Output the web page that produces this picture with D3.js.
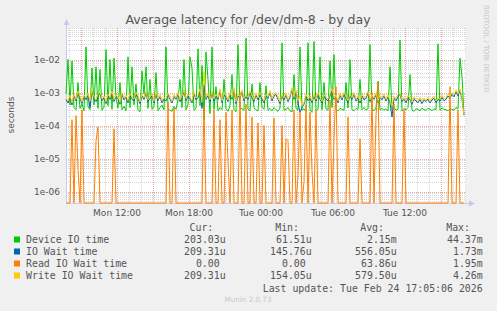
<!DOCTYPE html>
<html>
<head>
<meta charset="utf-8">
<script src="https://cdn.jsdelivr.net/npm/d3@7"></script>
<style>
  html, body { margin: 0; padding: 0; background: #f0f0f0; }
  svg { display: block; }
</style>
</head>
<body>
<svg id="chart"></svg>
<script>
// samples every 10 minutes, values in microseconds
const startTime = Date.UTC(2026, 1, 23, 7, 45);
const stepMs = 10 * 60 * 1000;

const deviceIO = [
  900, 10000, 420, 9000, 350, 300, 2000, 330, 450, 280,
  24000, 380, 300, 5500, 420, 6000, 330, 5000, 290, 360,
  20000, 400, 10000, 310, 11000, 700, 340, 2000, 300, 380,
  280, 12000, 350, 6000, 420, 1800, 300, 260, 4500, 900,
  6000, 330, 2500, 310, 380, 4000, 280, 350, 420, 300,
  24000, 320, 290, 270, 380, 310, 600, 2500, 350, 10000,
  300, 420, 12000, 5500, 290, 330, 21000, 400, 6500, 150,
  17000, 2500, 230, 24000, 310, 1500, 280, 350, 300, 2500,
  330, 270, 400, 3500, 300, 260, 28000, 350, 320, 290,
  44370, 310, 280, 1800, 340, 300, 280, 2000, 360, 310,
  1600, 290, 330, 280, 350, 300, 270, 340, 32000, 290,
  310, 350, 280, 260, 3500, 330, 300, 24000, 290, 320,
  270, 32000, 300, 250, 35000, 280, 310, 12000, 300, 2000,
  320, 290, 9000, 350, 14000, 300, 280, 330, 310, 290,
  2000, 340, 10000, 300, 280, 330, 310, 2500, 300, 350,
  290, 320, 28000, 310, 280, 340, 2200, 300, 330, 290,
  320, 280, 6000, 300, 350, 290, 310, 39000, 280, 330,
  300, 350, 3500, 290, 270, 320, 310, 280, 340, 300,
  290, 330, 310, 280, 320, 300, 30000, 290, 340, 310,
  300, 280, 330, 310, 290, 350, 320, 11000, 3000, 203
];
const ioWait = [
  620, 480, 720, 420, 800, 550, 980, 660, 460, 760,
  600, 840, 350, 1060, 640, 530, 780, 930, 570, 690,
  460, 800, 620, 970, 530, 750, 660, 440, 880, 600,
  720, 490, 840, 620, 560, 880, 690, 460, 780, 620,
  970, 530, 670, 790, 480, 880, 570, 750, 490, 630,
  550, 860, 630, 480, 760, 620, 880, 530, 690, 1060,
  570, 790, 630, 490, 920, 600, 700, 1140, 330, 1730,
  620, 810, 530, 970, 560, 770, 620, 1140, 490, 840,
  720, 530, 880, 620, 1230, 460, 790, 670, 1060, 560,
  750, 620, 970, 700, 530, 840, 600, 880, 630, 490,
  770, 670, 1010, 560, 790, 880, 620, 460, 760, 600,
  840, 530, 720, 1230, 620, 1060, 490, 250, 350, 440,
  790, 560, 670, 490, 770, 550, 880, 620, 480, 760,
  630, 560, 790, 1140, 620, 720, 490, 840, 600, 880,
  650, 490, 770, 620, 880, 550, 700, 480, 790, 600,
  670, 970, 530, 750, 620, 840, 490, 700, 600, 790,
  550, 740, 490, 180, 670, 560, 770, 880, 530, 630,
  490, 700, 600, 440, 650, 550, 490, 620, 460, 600,
  530, 630, 480, 600, 670, 490, 620, 550, 720, 560,
  620, 790, 670, 880, 740, 1060, 790, 1140, 620, 209
];
const readWait = [
  0, 0, 0, 150, 0, 200, 5, 0, 300, 0,
  0, 0, 0, 0, 0, 35, 90, 0, 0, 0,
  0, 0, 0, 0, 80, 0, 0, 0, 0, 0,
  0, 0, 0, 0, 0, 0, 0, 0, 0, 0,
  0, 0, 0, 0, 0, 0, 0, 0, 0, 0,
  0, 500, 0, 0, 350, 0, 0, 0, 0, 0,
  0, 0, 0, 0, 0, 0, 0, 0, 0, 400,
  0, 0, 0, 0, 300, 0, 0, 150, 0, 0,
  250, 8, 0, 300, 0, 0, 0, 1000, 0, 0,
  450, 0, 0, 180, 0, 0, 120, 0, 0, 100,
  0, 0, 0, 0, 170, 0, 0, 0, 100, 0,
  40, 35, 0, 0, 300, 0, 3, 250, 0, 2,
  400, 0, 250, 4, 0, 300, 0, 0, 0, 0,
  0, 0, 600, 0, 40, 1500, 0, 0, 0, 0,
  0, 180, 0, 0, 0, 0, 0, 40, 0, 0,
  0, 0, 0, 1000, 0, 200, 1950, 0, 0, 0,
  0, 0, 0, 0, 450, 0, 0, 0, 0, 300,
  0, 0, 0, 0, 0, 0, 0, 0, 0, 0,
  0, 0, 0, 0, 0, 0, 0, 0, 0, 0,
  0, 0, 1500, 0, 0, 0, 300, 0, 0, 0
];
const writeWait = [
  700, 550, 820, 480, 900, 620, 1100, 750, 520, 850,
  680, 950, 560, 1200, 720, 600, 880, 1050, 650, 780,
  520, 900, 700, 1100, 600, 850, 750, 500, 1000, 680,
  820, 560, 950, 700, 640, 1000, 780, 520, 880, 700,
  1100, 600, 760, 900, 540, 1000, 650, 850, 560, 720,
  620, 980, 720, 540, 860, 700, 1000, 600, 780, 1200,
  650, 900, 720, 560, 1050, 680, 800, 1300, 500, 4260,
  700, 920, 600, 1100, 640, 880, 700, 1300, 560, 950,
  820, 600, 1000, 700, 1400, 520, 900, 760, 1200, 640,
  850, 700, 1100, 800, 600, 950, 680, 1000, 720, 560,
  880, 760, 1150, 640, 900, 1000, 700, 520, 860, 680,
  950, 600, 820, 1400, 700, 1200, 560, 800, 400, 500,
  900, 640, 760, 560, 880, 620, 1000, 700, 540, 860,
  720, 640, 900, 1300, 700, 820, 560, 950, 680, 1000,
  740, 560, 880, 700, 1000, 620, 800, 540, 900, 680,
  760, 1100, 600, 850, 700, 950, 560, 800, 680, 900,
  620, 840, 560, 400, 760, 640, 880, 1000, 600, 720,
  560, 800, 680, 500, 740, 620, 560, 700, 520, 680,
  600, 720, 540, 680, 760, 560, 700, 620, 820, 640,
  700, 900, 760, 1000, 840, 1200, 900, 1300, 700, 209
];

const seriesNames = ['Device IO time', 'IO Wait time', 'Read IO Wait time', 'Write IO Wait time'];
const seriesColors = ['#00cc00', '#0066b3', '#ff8000', '#ffcc00'];
const curLabels = ['203.03u', '209.31u', '0.00', '209.31u'];
const minLabels = ['61.51u', '145.76u', '0.00', '154.05u'];
const avgLabels = ['2.15m', '556.05u', '63.86u', '579.50u'];
const maxLabels = ['44.37m', '1.73m', '1.95m', '4.26m'];
const yTickValues = [1e-2, 1e-3, 1e-4, 1e-5, 1e-6];
const yTickLabels = ['1e-02', '1e-03', '1e-04', '1e-05', '1e-06'];

const width = 497, height = 311;
const plot = { left: 66, right: 466, top: 28, bottom: 203 };
const yMin = 4.5e-7, yMax = 0.09;

const svg = d3.select('#chart').attr('width', width).attr('height', height);
svg.append('rect').attr('width', width).attr('height', height).attr('fill', '#f0f0f0');

const endTime = startTime + 400 * 300000;
const x = d3.scaleUtc().domain([new Date(startTime), new Date(endTime)]).range([plot.left, plot.right]);
const y = d3.scaleLog().domain([yMin, yMax]).range([plot.bottom, plot.top]).clamp(true);

svg.append('rect')
  .attr('x', plot.left).attr('y', plot.top)
  .attr('width', plot.right - plot.left).attr('height', plot.bottom - plot.top)
  .attr('fill', '#ffffff');

const grid = svg.append('g').attr('shape-rendering', 'crispEdges');

// horizontal log grid
for (let e = -7; e <= -1; e++) {
  for (let k = 1; k <= 9; k++) {
    const v = k * Math.pow(10, e);
    if (v < yMin || v > yMax) continue;
    const yy = Math.round(y(v)) + 0.5;
    grid.append('line')
      .attr('x1', plot.left).attr('x2', plot.right)
      .attr('y1', yy).attr('y2', yy)
      .attr('stroke', k === 1 ? '#eaa9a9' : '#d6d6d6')
      .attr('stroke-dasharray', '1,1');
  }
}

// vertical grid: hourly minor, 3-hourly major
x.ticks(d3.utcHour.every(1)).forEach(t => {
  const major = t.getUTCHours() % 3 === 0;
  const xx = Math.round(x(t)) + 0.5;
  grid.append('line')
    .attr('x1', xx).attr('x2', xx)
    .attr('y1', plot.top).attr('y2', plot.bottom)
    .attr('stroke', major ? '#eaa9a9' : '#d6d6d6')
    .attr('stroke-dasharray', '1,1');
});

// axes
const axisColor = '#c4caf0';
svg.append('line').attr('x1', plot.left + 0.5).attr('x2', plot.left + 0.5)
  .attr('y1', plot.bottom).attr('y2', plot.top - 5).attr('stroke', axisColor);
svg.append('line').attr('x1', plot.left).attr('x2', plot.right + 5)
  .attr('y1', plot.bottom + 0.5).attr('y2', plot.bottom + 0.5).attr('stroke', axisColor);
svg.append('path').attr('fill', axisColor)
  .attr('d', `M${plot.left - 2.5},${plot.top - 3} L${plot.left + 3.5},${plot.top - 3} L${plot.left + 0.5},${plot.top - 9} Z`);
svg.append('path').attr('fill', axisColor)
  .attr('d', `M${plot.right + 3},${plot.bottom - 2.5} L${plot.right + 3},${plot.bottom + 3.5} L${plot.right + 9},${plot.bottom + 0.5} Z`);

// series
const allSeries = [deviceIO, ioWait, readWait, writeWait];
const line = d3.line()
  .x((d, i) => x(new Date(startTime + i * stepMs)))
  .y(d => y(Math.max(d * 1e-6, yMin)));

allSeries.forEach((values, i) => {
  svg.append('path')
    .datum(values)
    .attr('fill', 'none')
    .attr('stroke', seriesColors[i])
    .attr('stroke-width', 1)
    .attr('d', line);
});

// tick labels
const tickColor = '#555555';
svg.append('g').selectAll('text')
  .data(yTickValues)
  .join('text')
  .attr('x', 60)
  .attr('y', d => y(d) + 3)
  .attr('text-anchor', 'end')
  .attr('font-family', 'DejaVu Sans')
  .attr('font-size', 9)
  .attr('fill', tickColor)
  .text((d, i) => yTickLabels[i]);

const fmt = d3.utcFormat('%a %H:%M');
svg.append('g').selectAll('text')
  .data(x.ticks(d3.utcHour.every(6)))
  .join('text')
  .attr('x', d => x(d))
  .attr('y', 215.5)
  .attr('text-anchor', 'middle')
  .attr('font-family', 'DejaVu Sans')
  .attr('font-size', 9)
  .attr('fill', tickColor)
  .text(d => fmt(d));

// title and side texts
svg.append('text')
  .attr('x', 248).attr('y', 23.5)
  .attr('text-anchor', 'middle')
  .attr('font-family', 'DejaVu Sans')
  .attr('font-size', 12.5)
  .attr('fill', '#555555')
  .text('Average latency for /dev/dm-8 - by day');

svg.append('text')
  .attr('transform', 'translate(14,115) rotate(-90)')
  .attr('text-anchor', 'middle')
  .attr('font-family', 'DejaVu Sans')
  .attr('font-size', 9)
  .attr('fill', tickColor)
  .text('seconds');

svg.append('text')
  .attr('transform', 'translate(484,5) rotate(90)')
  .attr('font-family', 'DejaVu Sans')
  .attr('font-size', 6.8)
  .attr('fill', '#c4c4c4')
  .text('RRDTOOL / TOBI OETIKER');

// legend
const mono = 'DejaVu Sans Mono';
const legendSize = 9.9;
const colRight = [225.7, 311.7, 396.7, 482.7];
const headRight = [213.3, 299, 384, 470];
['Cur:', 'Min:', 'Avg:', 'Max:'].forEach((h, i) => {
  svg.append('text')
    .attr('x', headRight[i]).attr('y', 231)
    .attr('text-anchor', 'end')
    .attr('font-family', mono).attr('font-size', legendSize)
    .attr('fill', '#555555')
    .text(h);
});

const legendCols = [curLabels, minLabels, avgLabels, maxLabels];
seriesNames.forEach((name, i) => {
  const base = 243 + i * 12;
  svg.append('rect')
    .attr('x', 14).attr('y', base - 6.5)
    .attr('width', 6).attr('height', 6)
    .attr('fill', seriesColors[i]);
  svg.append('text')
    .attr('x', 26).attr('y', base)
    .attr('font-family', mono).attr('font-size', legendSize)
    .attr('fill', '#555555')
    .text(name);
  legendCols.forEach((col, c) => {
    const label = col[i];
    const hasUnit = /[a-z]$/i.test(label);
    svg.append('text')
      .attr('x', colRight[c] - (hasUnit ? 0 : 6))
      .attr('y', base)
      .attr('text-anchor', 'end')
      .attr('font-family', mono).attr('font-size', legendSize)
      .attr('fill', '#555555')
      .text(label);
  });
});

svg.append('text')
  .attr('x', 482.7).attr('y', 291.5)
  .attr('text-anchor', 'end')
  .attr('font-family', mono).attr('font-size', legendSize)
  .attr('fill', '#555555')
  .text('Last update: Tue Feb 24 17:05:06 2026');

svg.append('text')
  .attr('x', 248).attr('y', 302)
  .attr('text-anchor', 'middle')
  .attr('font-family', 'DejaVu Sans')
  .attr('font-size', 7.2)
  .attr('fill', '#c8c8c8')
  .text('Munin 2.0.73');
</script>
</body>
</html>
